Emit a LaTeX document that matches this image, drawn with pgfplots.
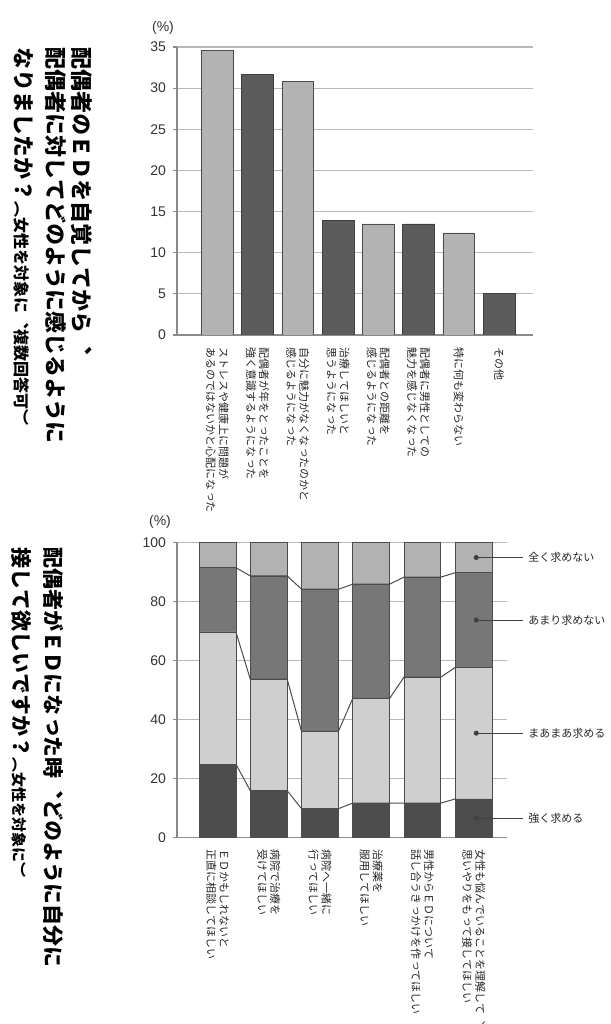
\documentclass[border=0pt]{standalone}
\usepackage{fontspec}
\setmainfont{Liberation Sans}
\newfontfamily\jp{Noto Sans CJK JP}
\newfontfamily\jpv{Noto Sans CJK JP}[Vertical=RotatedGlyphs]
\usepackage{pgfplots}
\pgfplotsset{compat=1.18}

\definecolor{barlight}{HTML}{B3B3B3}
\definecolor{bardark}{HTML}{5C5C5C}
\definecolor{strong}{HTML}{4D4D4D}
\definecolor{some}{HTML}{CFCFCF}
\definecolor{little}{HTML}{777777}
\definecolor{notatall}{HTML}{B2B2B2}
\definecolor{gridgray}{HTML}{B8B8B8}
\definecolor{axisgray}{HTML}{8A8A8A}
\definecolor{textgray}{HTML}{333333}

\pgfplotsset{
  common/.style={
    scale only axis,
    axis x line=bottom, axis y line=left,
    axis line style={draw=axisgray, line width=0.6pt, -},
    ymajorgrids, grid style={gridgray, line width=0.6pt},
    tick align=outside, major tick length=2pt,
    xtick style={draw=none},
    ytick style={draw=axisgray, line width=0.6pt},
    yticklabel style={font=\fontsize{7}{8}\selectfont, color=textgray},
    /pgf/number format/assume math mode=true,
    xticklabel style={yshift=-4pt, rotate=-90, anchor=west, align=left,
      inner sep=0pt, font=\jpv\fontsize{5.5}{6.5}\selectfont, color=black!85},
  },
}

\begin{document}
\begin{tikzpicture}[x=0.5pt,y=0.5pt]
\path[use as bounding box] (0,0) rectangle (611,1024);

% titles, vertical
\begin{scope}[every node/.style={rotate=-90, anchor=west, inner sep=0pt, text=black}]
\node[font=\jpv\bfseries\fontsize{11}{12}\selectfont] at (81.7,977.3) {配偶者のＥＤを自覚してから︑};
\node[font=\jpv\bfseries\fontsize{11}{12}\selectfont] at (55.7,977.3) {配偶者に対してどのように感じるように};
\node[font=\jpv\bfseries\fontsize{11}{12}\selectfont] at (23.3,977.3) {なりましたか？{\fontsize{8}{9}\selectfont（女性を対象に︑複数回答可）}};
\node[font=\jpv\bfseries\fontsize{10.5}{12}\selectfont] at (53.3,477.3) {配偶者がＥＤになった時︑どのように自分に};
\node[font=\jpv\bfseries\fontsize{10.5}{12}\selectfont] at (21.7,477.3) {接して欲しいですか？{\fontsize{7.5}{9}\selectfont（女性を対象に）}};
\end{scope}

\node[font=\fontsize{7}{8}\selectfont, text=textgray] at (163,996) {(\%)};
\node[font=\fontsize{7}{8}\selectfont, text=textgray] at (160,502) {(\%)};

% top chart
\begin{axis}[common,
  at={(88.5pt,344.5pt)}, anchor=south west,
  width=178pt, height=144pt,
  xmin=0, xmax=8.84, ymin=0, ymax=35,
  ytick={0,5,...,35},
  xtick={1,...,8},
  xticklabels={
    {ストレスや健康上に問題が\\あるのではないかと心配になった},
    {配偶者が年をとったことを\\強く意識するようになった},
    {自分に魅力がなくなったのかと\\感じるようになった},
    {治療してほしいと\\思うようになった},
    {配偶者との距離を\\感じるようになった},
    {配偶者に男性としての\\魅力を感じなくなった},
    {特に何も変わらない},
    {その他}},
  ybar, bar width=0.79,
]
\addplot[bar shift=0pt, fill=barlight, draw=black!70, line width=0.4pt]
  coordinates {(1,34.6) (3,30.8) (5,13.5) (7,12.4)};
\addplot[bar shift=0pt, fill=bardark, draw=black!75, line width=0.4pt]
  coordinates {(2,31.7) (4,13.9) (6,13.5) (8,5.0)};
\end{axis}

% bottom chart
\begin{axis}[common,
  at={(88.5pt,93.35pt)}, anchor=south west,
  width=165pt, height=147.5pt,
  xmin=0.21, xmax=6.65, ymin=0, ymax=100,
  ytick={0,20,...,100},
  xtick={1,...,6},
  xticklabels={
    {ＥＤかもしれないと\\正直に相談してほしい},
    {病院で治療を\\受けてほしい},
    {病院へ一緒に\\行ってほしい},
    {治療薬を\\服用してほしい},
    {男性からＥＤについて\\話し合うきっかけを作ってほしい},
    {女性も悩んでいることを理解して︑\\思いやりをもって接してほしい}},
  ybar stacked, bar width=0.72,
]
\addplot[fill=strong, draw=black!70, line width=0.4pt]
  coordinates {(1,24.8) (2,15.8) (3,9.7) (4,11.6) (5,11.6) (6,13.0)};
\addplot[fill=some, draw=black!70, line width=0.4pt]
  coordinates {(1,44.8) (2,37.8) (3,26.2) (4,35.5) (5,42.7) (6,44.6)};
\addplot[fill=little, draw=black!70, line width=0.4pt]
  coordinates {(1,21.8) (2,35.0) (3,48.2) (4,38.7) (5,33.9) (6,32.1)};
\addplot[fill=notatall, draw=black!70, line width=0.4pt]
  coordinates {(1,8.6) (2,11.4) (3,15.9) (4,14.2) (5,11.8) (6,10.3)};
\end{axis}

% connecting lines and labels for the bottom chart
\begin{axis}[
  at={(88.5pt,93.35pt)}, anchor=south west, scale only axis,
  width=165pt, height=147.5pt,
  xmin=0.21, xmax=6.65, ymin=0, ymax=100,
  hide axis, clip=false,
]
\addplot[black!70, line width=0.5pt] coordinates {
  (1.36,24.8) (1.64,15.8) (2.36,15.8) (2.64,9.7) (3.36,9.7) (3.64,11.6)
  (4.36,11.6) (4.64,11.6) (5.36,11.6) (5.64,13.0)};
\addplot[black!70, line width=0.5pt] coordinates {
  (1.36,69.6) (1.64,53.6) (2.36,53.6) (2.64,35.9) (3.36,35.9) (3.64,47.1)
  (4.36,47.1) (4.64,54.3) (5.36,54.3) (5.64,57.6)};
\addplot[black!70, line width=0.5pt] coordinates {
  (1.36,91.4) (1.64,88.6) (2.36,88.6) (2.64,84.1) (3.36,84.1) (3.64,85.8)
  (4.36,85.8) (4.64,88.2) (5.36,88.2) (5.64,89.7)};
\addplot[black!75, line width=0.5pt, mark=*, mark size=1pt, mark repeat=2]
  coordinates {(6.05,94.85) (6.96,94.85)}
  node[pos=1, right, inner sep=2.5pt, font=\jp\fontsize{5.5}{6}\selectfont, text=black!85] {全く求めない};
\addplot[black!75, line width=0.5pt, mark=*, mark size=1pt, mark repeat=2]
  coordinates {(6.05,73.65) (6.96,73.65)}
  node[pos=1, right, inner sep=2.5pt, font=\jp\fontsize{5.5}{6}\selectfont, text=black!85] {あまり求めない};
\addplot[black!75, line width=0.5pt, mark=*, mark size=1pt, mark repeat=2]
  coordinates {(6.05,35.3) (6.96,35.3)}
  node[pos=1, right, inner sep=2.5pt, font=\jp\fontsize{5.5}{6}\selectfont, text=black!85] {まあまあ求める};
\addplot[black!75, line width=0.5pt, mark=*, mark size=1pt, mark repeat=2]
  coordinates {(6.05,6.5) (6.96,6.5)}
  node[pos=1, right, inner sep=2.5pt, font=\jp\fontsize{5.5}{6}\selectfont, text=black!85] {強く求める};
\end{axis}
\end{tikzpicture}
\end{document}
